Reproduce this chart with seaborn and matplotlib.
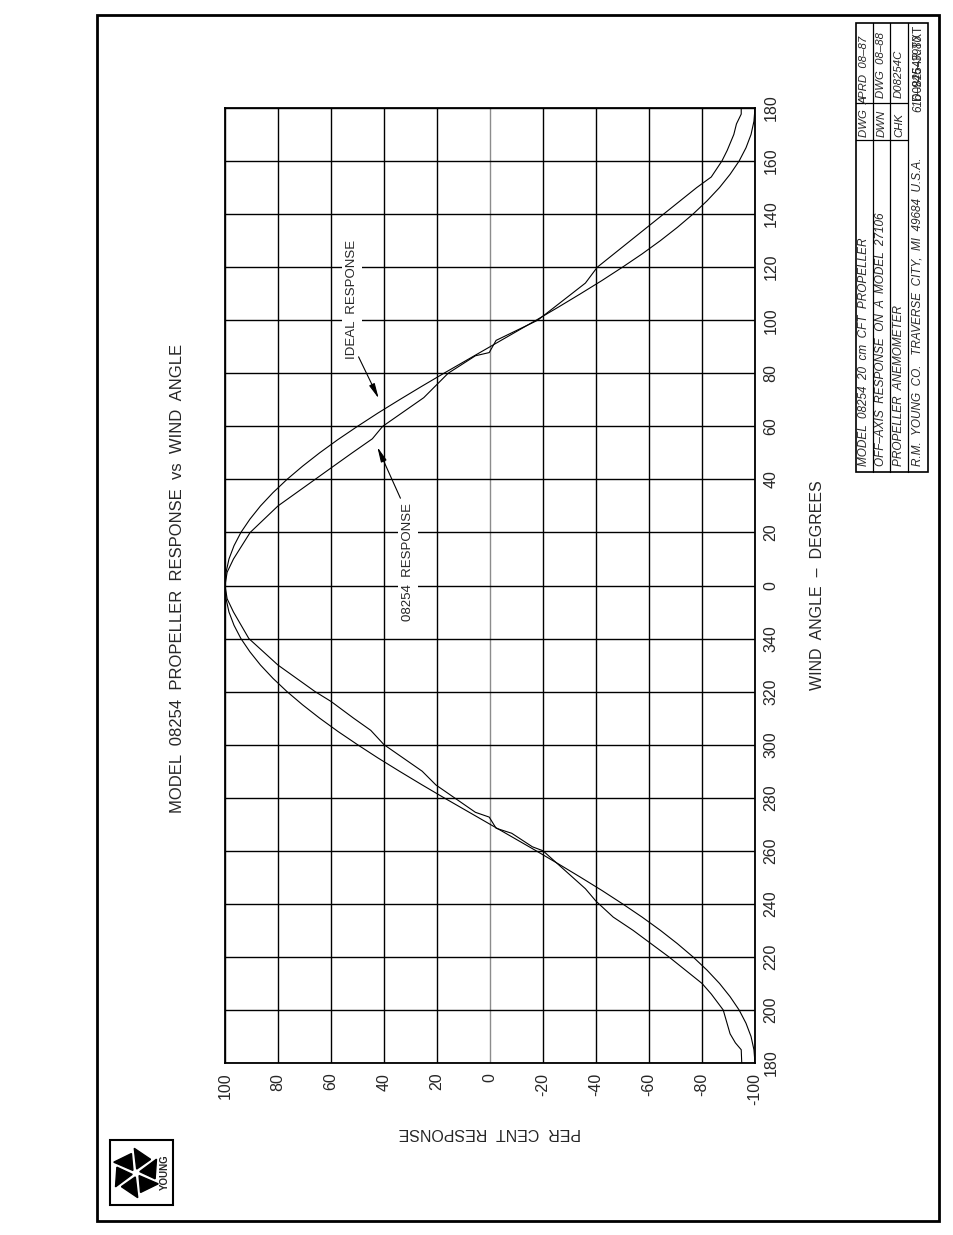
import numpy as np
import pandas as pd
import seaborn as sns
import matplotlib.pyplot as plt
from matplotlib.patches import Rectangle, Polygon

sns.set_style("white")
plt.rcParams['font.family'] = ['Liberation Sans', 'DejaVu Sans']

# wind angle kept as offset from 0 deg: -180..180 reads 180,200,..,340,0,20,..,180
ideal_angle = list(range(-180, 181, 5))
ideal_resp = [-100.0, -99.6, -98.5, -96.6, -94.0, -90.6, -86.6, -81.9, -76.6, -70.7,
              -64.3, -57.4, -50.0, -42.3, -34.2, -25.9, -17.4, -8.7, 0.0, 8.7,
              17.4, 25.9, 34.2, 42.3, 50.0, 57.4, 64.3, 70.7, 76.6, 81.9,
              86.6, 90.6, 94.0, 96.6, 98.5, 99.6, 100.0,
              99.6, 98.5, 96.6, 94.0, 90.6, 86.6, 81.9, 76.6, 70.7, 64.3,
              57.4, 50.0, 42.3, 34.2, 25.9, 17.4, 8.7, 0.0, -8.7, -17.4,
              -25.9, -34.2, -42.3, -50.0, -57.4, -64.3, -70.7, -76.6, -81.9, -86.6,
              -90.6, -94.0, -96.6, -98.5, -99.6, -100.0]

m_angle = [-180, -175, -172.4, -169, -160, -154, -150, -140, -130, -125,
           -119, -114.3, -100, -98.5, -93.4, -91.5, -87.3, -85.5, -75.2, -70,
           -60, -54.6, -50, -43.7, -40, -30, -20, -10, -5, 0,
           5, 10, 20, 30, 40, 44.3, 50, 55.3, 60, 70.8, 80,
           86.6, 87.8, 92.4, 100, 114, 120, 124.8, 140, 150, 154,
           160, 164, 170, 174, 177.7, 180]
m_resp = [-95.0, -94.8, -92.6, -90.6, -88.0, -83.5, -80.0, -67.5, -54.0, -46.5,
          -40.0, -36.0, -20.0, -16.0, -8.2, -2.3, 0.3, 5.5, 20.4, 25.6,
          40.0, 45.0, 51.5, 60.0, 66.0, 80.0, 91.0, 96.8, 99.2, 100.0,
          99.2, 96.8, 90.5, 80.0, 66.0, 60.0, 52.0, 44.4, 40.5, 25.0, 15.8,
          5.5, 0.3, -2.3, -18.0, -36.0, -40.5, -46.5, -65.5, -78.0, -83.5,
          -87.5, -89.5, -92.0, -93.0, -94.8, -94.8]

resp_ticks = list(range(-100, 101, 20))
angle_ticks = list(range(-180, 181, 20))
angle_labels = [str(a % 360) if a != 180 else '180' for a in angle_ticks]

ideal = pd.DataFrame({'angle': ideal_angle, 'resp': ideal_resp})
meas = pd.DataFrame({'angle': m_angle, 'resp': m_resp})

W, H = 954, 1235
fig = plt.figure(figsize=(W / 100, H / 100), dpi=100)
bg = fig.add_axes([0, 0, 1, 1])
bg.set_xlim(0, W)
bg.set_ylim(H, 0)
bg.axis('off')

# chart is drawn turned on its side, like the drawing sheet
ax = fig.add_axes([225 / W, 1 - 1063 / H, 530 / W, 955 / H])
sns.lineplot(data=ideal, x='resp', y='angle', orient='y', estimator=None,
             color='black', lw=0.8, ax=ax)
sns.lineplot(data=meas, x='resp', y='angle', orient='y', estimator=None,
             color='black', lw=0.8, ax=ax)
ax.set_xlim(100, -100)
ax.set_ylim(-180, 180)
ax.set_xticks(resp_ticks)
ax.set_xticklabels([str(v) for v in resp_ticks], rotation=90, fontsize=11.5)
ax.set_yticks(angle_ticks)
ax.set_yticklabels(angle_labels, rotation=90, va='center', fontsize=11.5)
ax.yaxis.tick_right()
ax.tick_params(axis='x', length=0, pad=7)
ax.tick_params(axis='y', length=0, pad=6)
ax.set_xlabel('')
ax.set_ylabel('')
ax.grid(True, color='black', lw=1.0)
ax.set_axisbelow(True)
ax.get_xgridlines()[5].set_color('0.55')
for s in ax.spines.values():
    s.set_color('black')
    s.set_linewidth(1.3)

ax.text(52, 108, 'IDEAL  RESPONSE', rotation=90, ha='center', va='center',
        fontsize=9.5, bbox=dict(fc='white', ec='none', pad=3))
ax.text(31, 9, '08254  RESPONSE', rotation=90, ha='center', va='center',
        fontsize=9.5, bbox=dict(fc='white', ec='none', pad=3))
arrow = dict(arrowstyle='-|>,head_length=0.9,head_width=0.18', color='black',
             lw=0.8, shrinkA=0, shrinkB=0)
ax.annotate('', xy=(42, 70.5), xytext=(49.6, 86.2), arrowprops=arrow)
ax.annotate('', xy=(42.5, 52.2), xytext=(33.8, 32.9), arrowprops=arrow)

# titles and axis names on the sheet
bg.text(178, 578, 'MODEL  08254  PROPELLER  RESPONSE  vs  WIND  ANGLE', rotation=90,
        ha='center', va='center', fontsize=12)
bg.text(818, 585, 'WIND  ANGLE  \u2013  DEGREES', rotation=90, ha='center',
        va='center', fontsize=11.5)
bg.text(490, 1133, 'PER  CENT  RESPONSE', rotation=180, ha='center', va='center',
        fontsize=11.5)

# sheet border
bg.add_patch(Rectangle((97, 15), 842, 1206, fill=False, ec='black', lw=2))

# title block
bg.add_patch(Rectangle((856, 23), 72, 449, fill=False, ec='black', lw=1.2))
for x in [873, 890, 908]:
    bg.plot([x, x], [23, 472], color='black', lw=0.9)
for y in [103, 140]:
    bg.plot([856, 908], [y, y], color='black', lw=0.9)
rows = [
    (864.5, 'MODEL  08254  20  cm  CFT  PROPELLER', 'DWG  A', 'PRD  08\u201387'),
    (881.5, 'OFF\u2013AXIS  RESPONSE  ON  A  MODEL  27106', 'DWN', 'DWG  08\u201388'),
    (899, 'PROPELLER  ANEMOMETER', 'CHK', 'D08254C'),
]
for x, t1, t2, t3 in rows:
    bg.text(x, 466, t1, rotation=90, ha='center', va='bottom', fontsize=8.5, style='italic')
    bg.text(x, 137, t2, rotation=90, ha='center', va='bottom', fontsize=8.2, style='italic')
    bg.text(x, 98, t3, rotation=90, ha='center', va='bottom', fontsize=8.2, style='italic')
bg.text(918, 466, 'R.M.  YOUNG  CO.   TRAVERSE  CITY,  MI  49684  U.S.A.', rotation=90,
        ha='center', va='bottom', fontsize=8.5, style='italic')
bg.text(918, 112, '616\u2013946\u20133980', rotation=90, ha='center', va='bottom',
        fontsize=8.5, style='italic')
bg.text(918, 100, 'D08254R.TXT', rotation=90, ha='center', va='bottom', fontsize=8.5)

# logo
bg.add_patch(Rectangle((110, 1140), 63, 65, fill=False, ec='black', lw=1.5))
cx, cy = 136, 1173
base = np.array([[0, -4], [-6, -24], [12, -16]])
for k in range(6):
    a = np.deg2rad(60 * k + 10)
    rot = np.array([[np.cos(a), -np.sin(a)], [np.sin(a), np.cos(a)]])
    pts = base @ rot.T + [cx, cy]
    bg.add_patch(Polygon(pts, closed=True, fc='black', ec='black'))
bg.text(165, 1172, 'YOUNG', rotation=90, ha='center', va='center', fontsize=7,
        fontweight='bold')

fig.savefig('out.png', dpi=100)
